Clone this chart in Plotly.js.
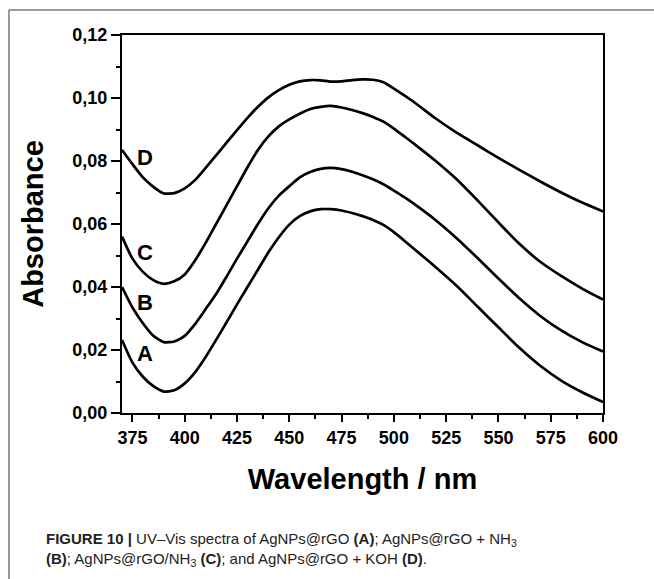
<!DOCTYPE html>
<html>
<head>
<meta charset="utf-8">
<script src="https://cdn.plot.ly/plotly-3.0.1.min.js"></script>
<style>
html,body{margin:0;padding:0;background:#fff;}
#chart{width:654px;height:579px;}
</style>
</head>
<body>
<div id="chart"></div>
<script>
// Wavelength (nm)
const wavelength = [370,375,380,385,390,395,400,405,410,415,420,425,430,435,440,445,450,455,460,465,470,475,480,485,490,495,500,505,510,520,530,540,550,560,570,580,590,600];
// A: AgNPs@rGO
const absA = [0.0232,0.0160,0.0115,0.0085,0.0068,0.0072,0.0094,0.0130,0.0178,0.0232,0.0288,0.0345,0.0400,0.0455,0.0510,0.0558,0.0598,0.0625,0.0640,0.0647,0.0647,0.0643,0.0635,0.0625,0.0613,0.0597,0.0574,0.0547,0.0519,0.0463,0.0404,0.0338,0.0272,0.0207,0.0150,0.0103,0.0066,0.0035];
// B: AgNPs@rGO + NH3
const absB = [0.0400,0.0335,0.0285,0.0245,0.0225,0.0227,0.0245,0.0283,0.0330,0.0378,0.0433,0.0490,0.0545,0.0600,0.0650,0.0690,0.0720,0.0748,0.0765,0.0775,0.0778,0.0774,0.0766,0.0755,0.0742,0.0726,0.0706,0.0685,0.0662,0.0612,0.0555,0.0492,0.0427,0.0364,0.0308,0.0262,0.0225,0.0195];
// C: AgNPs@rGO/NH3
const absC = [0.0560,0.0490,0.0448,0.0422,0.0410,0.0418,0.0440,0.0485,0.0540,0.0600,0.0660,0.0720,0.0780,0.0835,0.0878,0.0910,0.0932,0.0950,0.0965,0.0972,0.0975,0.0970,0.0962,0.0952,0.0940,0.0925,0.0903,0.0878,0.0853,0.0800,0.0742,0.0675,0.0605,0.0537,0.0480,0.0435,0.0395,0.0360];
// D: AgNPs@rGO + KOH
const absD = [0.0835,0.0790,0.0748,0.0718,0.0697,0.0698,0.0713,0.0740,0.0778,0.0818,0.0858,0.0898,0.0937,0.0972,0.1002,0.1025,0.1042,0.1053,0.1057,0.1056,0.1052,0.1053,0.1057,0.1059,0.1058,0.1050,0.1030,0.1008,0.0985,0.0935,0.0890,0.0850,0.0810,0.0772,0.0735,0.0700,0.0668,0.0640];

const seriesNames = ['A','B','C','D'];
const seriesData = [absA, absB, absC, absD];
const labelPos = [ [381,0.0190], [381,0.0352], [381,0.0508], [381,0.0810] ];

const traces = seriesData.map((y,i)=>({
  x: wavelength, y: y, type:'scatter', mode:'lines', name: seriesNames[i],
  line:{color:'#000', width:2.7, shape:'spline', smoothing:0.6},
  showlegend:false, hoverinfo:'skip'
}));

const bold = 'Liberation Sans, Arial, Helvetica, sans-serif';

const annotations = seriesNames.map((n,i)=>({
  x: labelPos[i][0], y: labelPos[i][1], xref:'x', yref:'y', text:'<b>'+n+'</b>',
  showarrow:false, xanchor:'center', yanchor:'middle',
  font:{family:bold, size:22, color:'#000'}
}));

annotations.push({
  xref:'paper', yref:'paper', x:-0.163, y:-0.305, xanchor:'left', yanchor:'top', align:'left',
  showarrow:false,
  text:'<b>FIGURE 10 |</b> UV–Vis spectra of AgNPs@rGO <b>(A)</b>; AgNPs@rGO + NH<sub>3</sub><br><b>(B)</b>; AgNPs@rGO/NH<sub>3</sub> <b>(C)</b>; and AgNPs@rGO + KOH <b>(D)</b>.',
  font:{family:'Liberation Sans, Arial, sans-serif', size:15, color:'#222'}
});

const layout = {
  width:654, height:579,
  margin:{l:122, r:51, t:35, b:166},
  paper_bgcolor:'#fff', plot_bgcolor:'#fff',
  separators:',.',
  showlegend:false,
  xaxis:{
    range:[370,600], tick0:375, dtick:25, ticks:'outside', ticklen:7, tickwidth:2, tickcolor:'#000',
    minor:{dtick:12.5, tick0:375, ticks:'outside', ticklen:4, tickwidth:2, tickcolor:'#000'},
    showline:true, linecolor:'#000', linewidth:2, mirror:true, showgrid:false, zeroline:false,
    tickfont:{family:bold, size:18, color:'#000', weight:'bold'},
    title:{text:'<b>Wavelength / nm</b>', font:{family:bold, size:29, color:'#000'}, standoff:22}
  },
  yaxis:{
    range:[0,0.12], dtick:0.02, tickformat:'.2f', ticks:'outside', ticklen:9, tickwidth:2, tickcolor:'#000',
    minor:{dtick:0.01, ticks:'outside', ticklen:4, tickwidth:2, tickcolor:'#000'},
    showline:true, linecolor:'#000', linewidth:2, mirror:true, showgrid:false, zeroline:false,
    tickfont:{family:bold, size:18, color:'#000', weight:'bold'},
    title:{text:'<b>Absorbance</b>', font:{family:bold, size:29, color:'#000'}, standoff:20}
  },
  shapes:[
    {type:'line', xref:'paper', yref:'paper', x0:-0.235, x1:1.2, y0:1.066, y1:1.066, line:{color:'#777', width:1.5}},
    {type:'line', xref:'paper', yref:'paper', x0:-0.235, x1:-0.235, y0:1.066, y1:-0.5, line:{color:'#777', width:1.5}}
  ],
  annotations: annotations
};

Plotly.newPlot('chart', traces, layout, {staticPlot:true, displayModeBar:false});
</script>
</body>
</html>
